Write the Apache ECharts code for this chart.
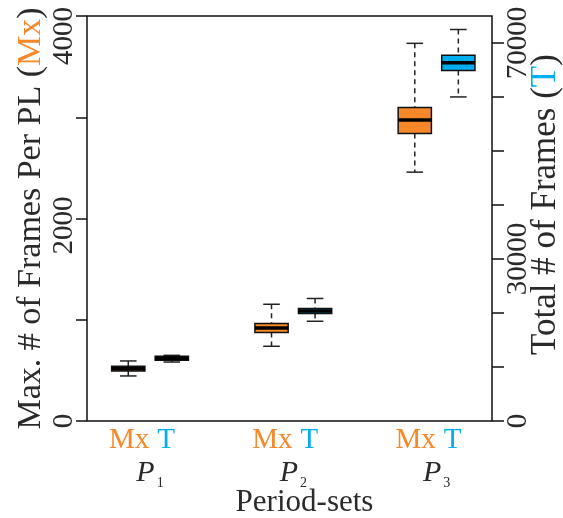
<!DOCTYPE html>
<html><head><meta charset="utf-8">
<script src="https://cdn.jsdelivr.net/npm/echarts@6/dist/echarts.min.js"></script>
<style>html,body{margin:0;padding:0;background:#fff}#c{width:563px;height:518px}</style>
</head><body><div id="c"></div>
<script>
// ---- data ----
const categories = ['P1', 'P2', 'P3'];
const seriesNames = ['Mx', 'T'];
// each box: [lower whisker, Q1, median, Q3, upper whisker]
const mxBoxes = [
  [445, 494, 516, 541, 593],
  [738, 874, 919, 963, 1153],
  [2458, 2840, 2972, 3097, 3730]
];
const tBoxes = [
  [10920, 11230, 11600, 11975, 12160],
  [18470, 19900, 20390, 20830, 22690],
  [60010, 64890, 66320, 67730, 72500]
];
const leftTicks = [0, 1000, 2000, 3000, 4000];
const leftTickLabels = [0, 2000, 4000];
const rightTicks = [0, 10000, 20000, 30000, 40000, 50000, 60000, 70000];
const rightTickLabels = [0, 30000, 70000];
const xTitle = 'Period-sets';
const leftTitle = 'Max. # of Frames Per PL (';
const rightTitle = 'Total # of Frames (';

// ---- style ----
const ORANGE = '#F6882A';
const BLUE = '#00AEEF';
const TXT = '#2a2a2a';
const FONT = 'Liberation Serif';
const BOX_W = 0.232;
const OFFSET = 0.152;

function makeRender(offset, color) {
  return function (params, api) {
    const x = api.value(0) + offset;
    const low = api.coord([x, api.value(1)]);
    const q1 = api.coord([x, api.value(2)]);
    const med = api.coord([x, api.value(3)]);
    const q3 = api.coord([x, api.value(4)]);
    const high = api.coord([x, api.value(5)]);
    const w = api.size([BOX_W, 0])[0];
    const cx = low[0];
    const cap = w / 2;
    const dash = { stroke: '#222', lineWidth: 1.5, lineDash: [5, 4] };
    const solid = { stroke: '#222', lineWidth: 1.5 };
    return {
      type: 'group',
      children: [
        { type: 'line', shape: { x1: cx, y1: high[1], x2: cx, y2: q3[1] }, style: dash },
        { type: 'line', shape: { x1: cx, y1: q1[1], x2: cx, y2: low[1] }, style: dash },
        { type: 'line', shape: { x1: cx - cap / 2, y1: high[1], x2: cx + cap / 2, y2: high[1] }, style: solid },
        { type: 'line', shape: { x1: cx - cap / 2, y1: low[1], x2: cx + cap / 2, y2: low[1] }, style: solid },
        { type: 'rect', shape: { x: cx - w / 2, y: q3[1], width: w, height: q1[1] - q3[1] },
          style: { fill: color, stroke: '#111', lineWidth: 1.5 } },
        { type: 'line', shape: { x1: cx - w / 2, y1: med[1], x2: cx + w / 2, y2: med[1] },
          style: { stroke: '#000', lineWidth: 3.5 } }
      ]
    };
  };
}

const chart = echarts.init(document.getElementById('c'), null, { renderer: 'canvas' });
chart.setOption({
  animation: false,
  backgroundColor: '#fff',
  grid: { left: 87, right: 71, top: 16, bottom: 97, containLabel: false, outerBoundsMode: 'none',
    show: true, borderColor: '#111', borderWidth: 1.5, backgroundColor: 'transparent' },
  xAxis: {
    type: 'value', min: 0.56, max: 3.387,
    axisLine: { show: false }, axisTick: { show: false }, splitLine: { show: false },
    axisLabel: {
      customValues: [1, 2, 3],
      margin: 3,
      formatter: function (v) {
        const c = categories[Math.round(v) - 1];
        return '{mx|' + seriesNames[0] + '}{t|' + seriesNames[1] + '}\n{p|' + c[0] + '}{s|' + c.slice(1) + '}';
      },
      rich: {
        mx: { color: ORANGE, fontFamily: FONT, fontSize: 29, lineHeight: 32 },
        t: { color: BLUE, fontFamily: FONT, fontSize: 29, lineHeight: 32, padding: [0, 16, 0, 8] },
        p: { color: TXT, fontFamily: FONT, fontSize: 30, fontStyle: 'italic', lineHeight: 34 },
        s: { color: TXT, fontFamily: FONT, fontSize: 14, lineHeight: 32, verticalAlign: 'bottom', padding: [0, 0, 0, 2] }
      }
    },
    name: xTitle, nameLocation: 'middle', nameGap: 66, nameMoveOverlap: false,
    nameTextStyle: { color: TXT, fontFamily: FONT, fontSize: 31, padding: [0, 0, 0, 30] }
  },
  yAxis: [
    {
      type: 'value', position: 'left', min: 0, max: 4000, interval: 1000,
      axisLine: { show: false }, splitLine: { show: false },
      axisTick: { show: true, length: 11, customValues: leftTicks, lineStyle: { color: '#111', width: 1.5 } },
      axisLabel: {
        customValues: leftTickLabels, rotate: 90, margin: 8, color: TXT, fontFamily: FONT, fontSize: 29,
        formatter: function (v) { return v === 4000 ? '{top|' + v + '}' : (v === 2000 ? '{mid|' + v + '}' : String(v)); },
        rich: {
          top: { color: TXT, fontFamily: FONT, fontSize: 29, padding: [0, 40, 0, 0] },
          mid: { color: TXT, fontFamily: FONT, fontSize: 29, padding: [0, 14, 0, 0] }
        }
      },
      name: leftTitle + '{o|' + seriesNames[0] + '})', nameLocation: 'middle', nameRotate: 90, nameGap: 39,
      nameMoveOverlap: false,
      nameTextStyle: { color: TXT, fontFamily: FONT, fontSize: 34,
        rich: { o: { color: ORANGE, fontFamily: FONT, fontSize: 34 } } }
    },
    {
      type: 'value', position: 'right', min: 0, max: 75000, interval: 10000,
      axisLine: { show: false }, splitLine: { show: false },
      axisTick: { show: true, length: 12, customValues: rightTicks, lineStyle: { color: '#111', width: 1.5 } },
      axisLabel: { customValues: rightTickLabels, rotate: 90, margin: 12, color: TXT, fontFamily: FONT, fontSize: 29,
        formatter: function (v) { return String(v); } },
      name: rightTitle + '{b|' + seriesNames[1] + '})', nameLocation: 'middle', nameRotate: 90, nameGap: 36,
      nameMoveOverlap: false,
      nameTextStyle: { color: TXT, fontFamily: FONT, fontSize: 35, padding: [0, 0, 0, 28],
        rich: { b: { color: BLUE, fontFamily: FONT, fontSize: 35 } } }
    }
  ],
  series: [
    { type: 'custom', name: seriesNames[0], xAxisIndex: 0, yAxisIndex: 0,
      renderItem: makeRender(-OFFSET, ORANGE),
      encode: { x: 0, y: [1, 2, 3, 4, 5] },
      data: mxBoxes.map(function (b, i) { return [i + 1].concat(b); }) },
    { type: 'custom', name: seriesNames[1], xAxisIndex: 0, yAxisIndex: 1,
      renderItem: makeRender(OFFSET, BLUE),
      encode: { x: 0, y: [1, 2, 3, 4, 5] },
      data: tBoxes.map(function (b, i) { return [i + 1].concat(b); }) }
  ]
});
</script>
</body></html>
